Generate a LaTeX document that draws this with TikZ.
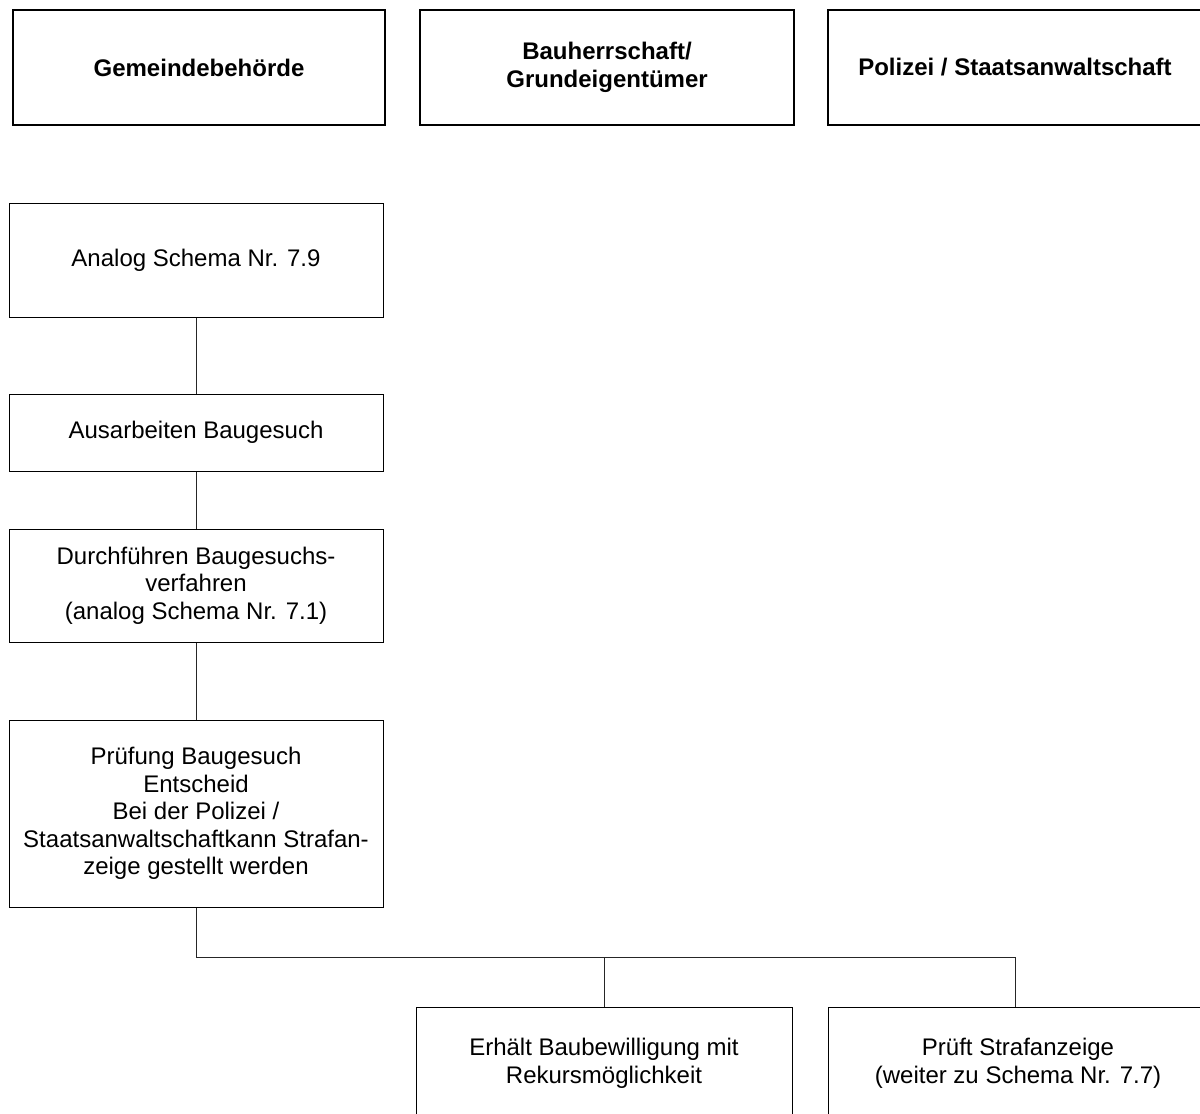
\documentclass[tikz,border=0pt]{standalone}
\usepackage{fontspec}
\setmainfont{Liberation Sans}
\begin{document}
\begin{tikzpicture}[x=0.75pt,y=-0.75pt,
  base/.style={draw=black, rectangle, inner sep=0pt, align=center, font=\fontsize{18}{20.7}\selectfont},
  head/.style={base, line width=1.5pt, font=\fontsize{18}{20.7}\selectfont\bfseries, minimum height=86.25pt},
  flow/.style={base, line width=0.75pt},
  conn/.style={draw=black!85, line width=0.75pt}]
\path[use as bounding box, clip] (0,0) rectangle (1200,1114);
\fill[white] (0,0) rectangle (1200,1114);
% headers
\node[head, minimum width=279pt] (h1) at (199,67.5) {Gemeindebehörde};
\node[head, minimum width=280.5pt] (h2) at (607,67.5) {Bauherrschaft/\\Grundeigentümer};
\node[head, minimum width=300pt] (h3) at (1028,67.5) {\hspace*{-19.5pt}Polizei / Staatsanwaltschaft};
% flow
\node[flow, minimum width=280.5pt, minimum height=85.5pt] (a) at (196,260) {Analog Schema Nr. 7.9};
\node[flow, minimum width=280.5pt, minimum height=57.75pt] (b) at (196,432.5) {Ausarbeiten Baugesuch};
\node[flow, minimum width=280.5pt, minimum height=84.75pt] (c) at (196,585.5) {Durchführen Baugesuchs-\\verfahren\\(analog Schema Nr. 7.1)};
\node[flow, minimum width=280.5pt, minimum height=140.25pt] (d) at (196,813.5) {Prüfung Baugesuch\\Entscheid\\Bei der Polizei /\\Staatsanwaltschaftkann Strafan-\\zeige gestellt werden};
\node[flow, minimum width=282pt, minimum height=84.75pt] (e) at (604,1063.5) {Erhält Baubewilligung mit\\Rekursmöglichkeit};
\node[flow, minimum width=285pt, minimum height=84.75pt] (f) at (1018,1063.5) {Prüft Strafanzeige\\(weiter zu Schema Nr. 7.7)};
% connectors
\coordinate (fn) at (1015,1007);
\draw[conn] (a.south) -- (b.north);
\draw[conn] (b.south) -- (c.north);
\draw[conn] (c.south) -- (d.north);
\coordinate (j) at (196,957);
\draw[conn] (d.south) -- (j) -| (fn);
\draw[conn] (e.north |- j) -- (e.north);
\end{tikzpicture}
\end{document}
